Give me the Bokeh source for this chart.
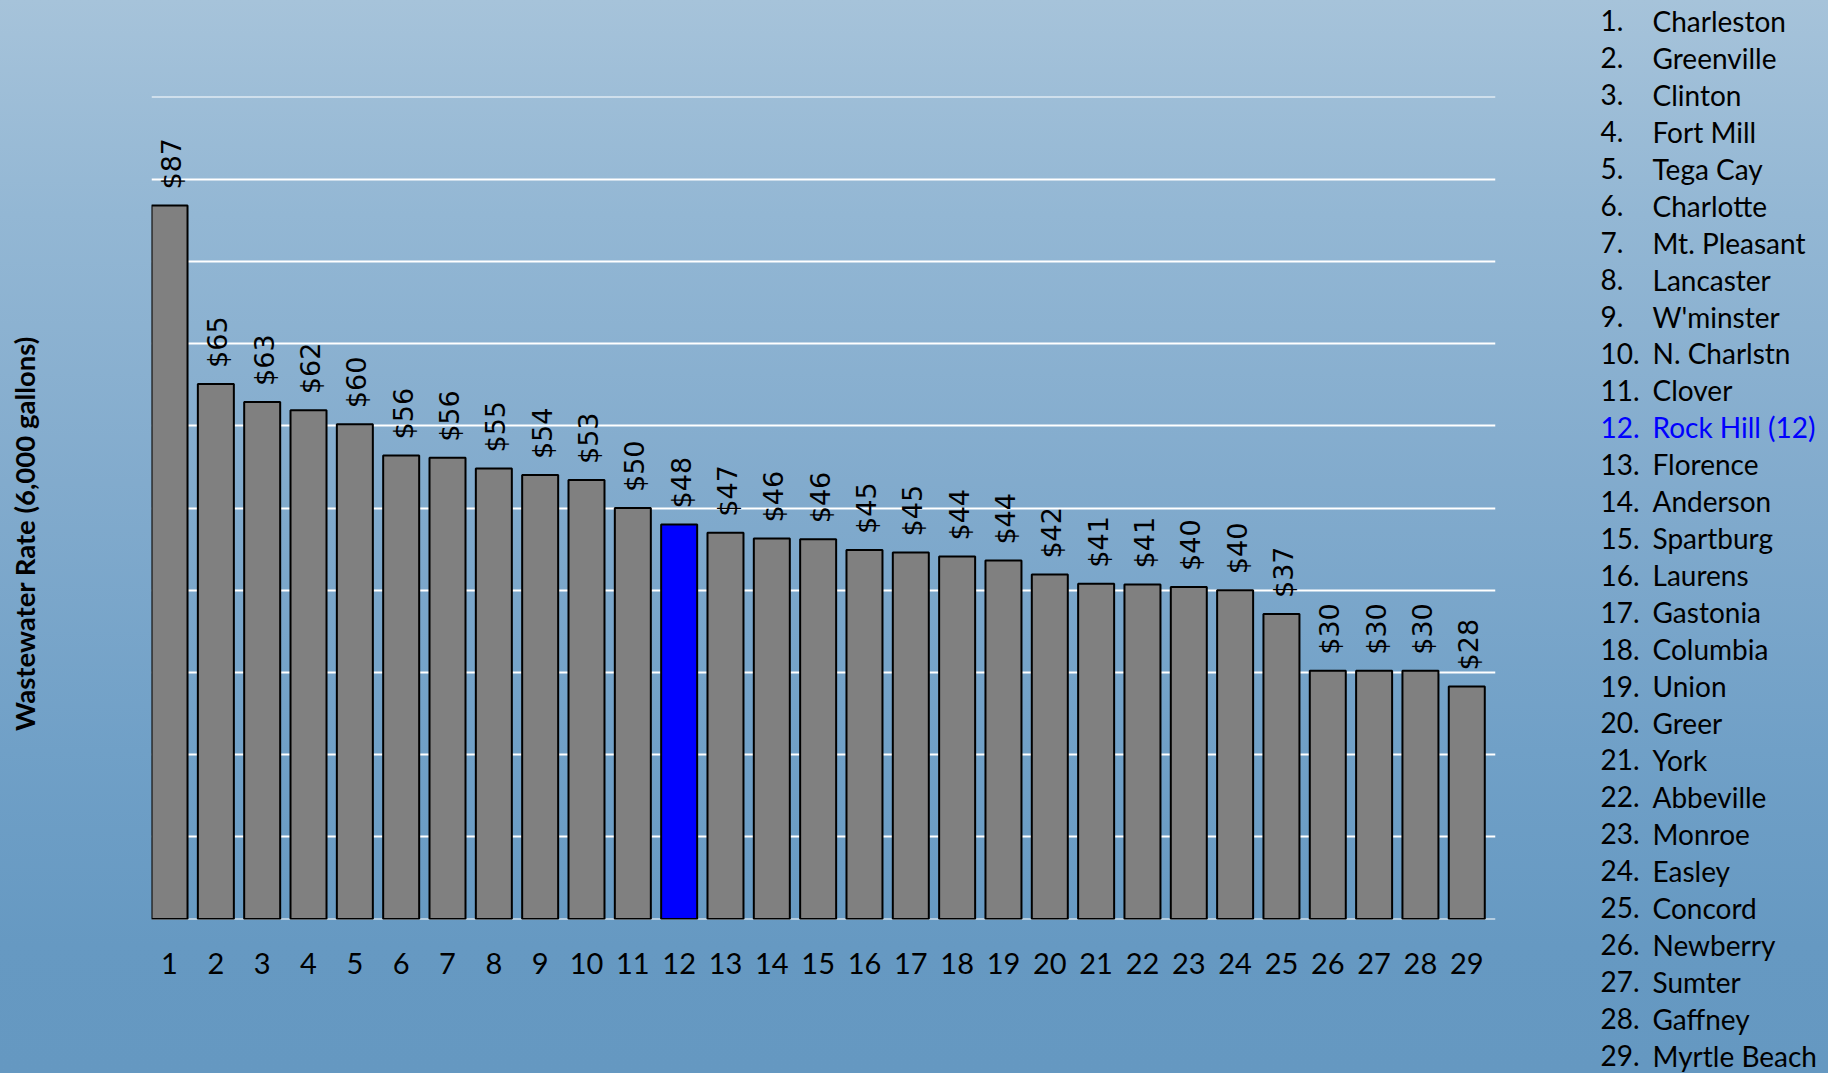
import math
from bokeh.plotting import figure
from bokeh.layouts import row
from bokeh.models import ColumnDataSource, FixedTicker, Range1d, InlineStyleSheet
from bokeh.core.properties import value
from bokeh.embed import file_html
from bokeh.resources import INLINE

# ---------------- data ----------------
cities = ["Charleston", "Greenville", "Clinton", "Fort Mill", "Tega Cay", "Charlotte",
          "Mt. Pleasant", "Lancaster", "W'minster", "N. Charlstn", "Clover", "Rock Hill (12)",
          "Florence", "Anderson", "Spartburg", "Laurens", "Gastonia", "Columbia", "Union",
          "Greer", "York", "Abbeville", "Monroe", "Easley", "Concord", "Newberry", "Sumter",
          "Gaffney", "Myrtle Beach"]
ranks = list(range(1, 30))
rates = [86.8, 65.1, 62.9, 61.9, 60.2, 56.4, 56.1, 54.8, 54.0, 53.4, 50.0, 48.0, 47.0,
         46.3, 46.2, 44.9, 44.6, 44.1, 43.6, 41.9, 40.8, 40.7, 40.4, 40.0, 37.1, 30.2,
         30.2, 30.2, 28.3]
highlight_rank = 12
y_ticks = list(range(0, 101, 10))
y_title = "Wastewater Rate (6,000 gallons)"

# ---------------- layout ----------------
PAGE_W, PAGE_H = 1828, 1073
LEFT_W = 151                 # title strip
MAIN_W = 1409                # chart (frame 151..1495)
RIGHT_W = PAGE_W - LEFT_W - MAIN_W
FRAME_TOP, FRAME_BOTTOM = 96, 919
FRAME_RIGHT_PAD = 65
X0, X1 = 0.611, 29.62
Y0, Y1 = -0.06, 100.06
px_per_y = (FRAME_BOTTOM - FRAME_TOP) / (Y1 - Y0)

GRAY = "#808080"
BLUE = "#0000ff"
GRADIENT = ("linear-gradient(180deg, #a6c3da 0%, #93b7d4 20%, #82abcd 45%, "
            "#70a0c7 70%, #6699c2 88%, #6598c1 100%)")


def side_figure(w):
    fig = figure(width=w, height=PAGE_H, output_backend="svg", toolbar_location=None,
                 x_range=Range1d(0, w), y_range=Range1d(PAGE_H, 0),
                 x_axis_location=None, y_axis_location=None, min_border=0)
    try:
        fig.frame_align = False
    except Exception:
        pass
    fig.background_fill_alpha = 0
    fig.border_fill_alpha = 0
    fig.outline_line_color = None
    fig.xgrid.visible = False
    fig.ygrid.visible = False
    return fig


# ---- left strip: y axis title ----
pl = side_figure(LEFT_W)
pl.text(x=[24], y=[533], text=[y_title], angle=math.pi / 2,
        text_align="center", text_baseline="middle",
        text_font=value("Lato"), text_font_style="bold", text_font_size="27.5px",
        text_color="black")

# ---- main chart ----
p = figure(width=MAIN_W, height=PAGE_H, output_backend="svg", toolbar_location=None,
           x_range=Range1d(X0, X1), y_range=Range1d(Y0, Y1),
           y_axis_location=None,
           min_border_left=0, min_border_right=FRAME_RIGHT_PAD,
           min_border_top=FRAME_TOP, min_border_bottom=PAGE_H - FRAME_BOTTOM)
p.background_fill_alpha = 0
p.border_fill_alpha = 0
p.outline_line_color = None

bar_colors = [BLUE if r == highlight_rank else GRAY for r in ranks]
bars = ColumnDataSource(dict(rank=ranks, rate=rates, color=bar_colors,
                             label=[f"${round(v)}" for v in rates],
                             label_y=[v + 16 / px_per_y for v in rates]))
p.vbar(x="rank", top="rate", bottom=0, width=0.777, source=bars,
       fill_color="color", line_color="black", line_width=2)

p.text(x="rank", y="label_y", text="label", source=bars, angle=math.pi / 2,
       text_align="left", text_baseline="middle", x_offset=2,
       text_font=value("DejaVu Sans"), text_font_size="27px", text_color="black")

p.ygrid.ticker = FixedTicker(ticks=y_ticks)
p.ygrid.grid_line_color = "white"
p.ygrid.grid_line_width = 2
p.xgrid.visible = False

xa = p.xaxis[0]
xa.ticker = FixedTicker(ticks=ranks)
xa.axis_line_color = None
xa.major_tick_line_color = None
xa.minor_tick_line_color = None
xa.major_tick_out = 0
xa.major_tick_in = 0
xa.major_label_standoff = 33
xa.major_label_text_font = "Lato"
xa.major_label_text_font_size = "29px"
xa.major_label_text_color = "black"

# ---- right strip: ranking list ----
pr = side_figure(RIGHT_W)
row_mid = [1055 - (28 - i) * 36.95 for i in range(29)]
leg = ColumnDataSource(dict(
    xn=[1600 - LEFT_W - MAIN_W] * 29,
    xc=[1652 - LEFT_W - MAIN_W] * 29,
    y=row_mid,
    num=[f"{r}." for r in ranks],
    name=cities,
    color=[BLUE if r == highlight_rank else "black" for r in ranks],
))
pr.text(x="xn", y="y", text="num", source=leg, text_color="color",
        text_align="left", text_baseline="middle",
        text_font=value("Lato"), text_font_size="28px")
pr.text(x="xc", y="y", text="name", source=leg, text_color="color",
        text_align="left", text_baseline="middle",
        text_font=value("Lato"), text_font_size="28px")

layout = row(pl, p, pr, spacing=0)
layout.styles = {"background": GRADIENT}
layout.stylesheets = [InlineStyleSheet(css=f":host {{ background: {GRADIENT}; }}")]

html = file_html(layout, INLINE)
open("out.html", "w").write(html)
